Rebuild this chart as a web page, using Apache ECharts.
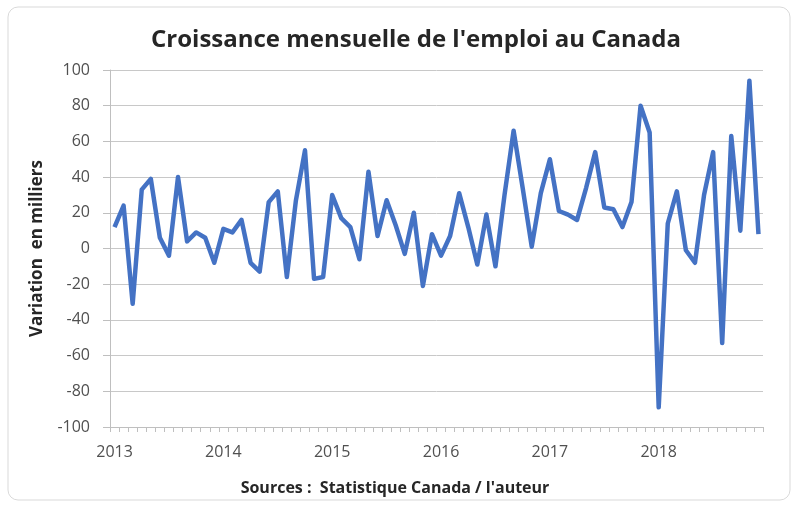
<!DOCTYPE html>
<html>
<head>
<meta charset="utf-8">
<script src="https://cdn.jsdelivr.net/npm/echarts@6/dist/echarts.min.js"></script>
<style>
  html, body { margin: 0; padding: 0; background: #fff; }
  #chart { width: 799px; height: 506px; }
</style>
</head>
<body>
<div id="chart"></div>
<script>
// années et mois de l'axe horizontal
const years = ["2013", "2014", "2015", "2016", "2017", "2018"];
const months = ["01", "02", "03", "04", "05", "06", "07", "08", "09", "10", "11", "12"];

// variation mensuelle de l'emploi (milliers)
const v2013 = [12, 24, -31, 33, 39, 6, -4, 40, 4, 9, 6, -8];
const v2014 = [11, 9, 16, -8, -13, 26, 32, -16, 27, 55, -17, -16];
const v2015 = [30, 17, 12, -6, 43, 7, 27, 13, -3, 20, -21, 8];
const v2016 = [-4, 7, 31, 12, -9, 19, -10, 30, 66, 34, 1, 31];
const v2017 = [50, 21, 19, 16, 34, 54, 23, 22, 12, 26, 80, 65];
const v2018 = [-89, 14, 32, -1, -8, 30, 54, -53, 63, 10, 94, 8];

const yTicks = { min: -100, max: 100, interval: 20 };

const categories = [];
years.forEach(y => months.forEach(m => categories.push(y + "-" + m)));
const values = [].concat(v2013, v2014, v2015, v2016, v2017, v2018);

const font = "'Open Sans', 'Liberation Sans', sans-serif";
const grey = "#505050";

const chart = echarts.init(document.getElementById("chart"));
chart.setOption({
  animation: false,
  grid: { left: 110, right: 36, top: 70, bottom: 79 },
  graphic: [
    {
      type: "rect",
      shape: { x: 8, y: 7, width: 782, height: 493, r: 10 },
      style: { fill: "none", stroke: "#d9d9d9", lineWidth: 1 },
      silent: true
    },
    {
      type: "text",
      x: 416, y: 40,
      style: {
        text: "Croissance mensuelle de l'emploi au Canada",
        align: "center", verticalAlign: "middle",
        font: "bold 24px " + font, fill: "#262626"
      }
    },
    {
      type: "text",
      x: 395, y: 488,
      style: {
        text: "Sources :  Statistique Canada / l'auteur",
        align: "center", verticalAlign: "middle",
        font: "bold 16px " + font, fill: "#262626"
      }
    }
  ],
  xAxis: {
    type: "category",
    data: categories,
    boundaryGap: true,
    axisLine: { onZero: false, lineStyle: { color: "#bfbfbf" } },
    axisTick: { show: true, interval: 0, length: 5, lineStyle: { color: "#bfbfbf" } },
    axisLabel: {
      interval: i => i % 12 === 0,
      formatter: v => v.slice(0, 4),
      margin: 17,
      color: grey,
      fontSize: 16,
      fontFamily: font
    },
    splitLine: { show: false }
  },
  yAxis: {
    type: "value",
    min: yTicks.min,
    max: yTicks.max,
    interval: yTicks.interval,
    name: "Variation  en milliers",
    nameLocation: "middle",
    nameRotate: 90,
    nameGap: 64,
    nameTextStyle: { color: "#262626", fontWeight: "bold", fontSize: 17, fontFamily: font },
    axisLine: { show: true, lineStyle: { color: "#bfbfbf" } },
    axisTick: { show: true, length: 7, lineStyle: { color: "#bfbfbf" } },
    axisLabel: { margin: 20, color: grey, fontSize: 16, fontFamily: font },
    splitLine: { lineStyle: { color: "#c8c8c8" } }
  },
  series: [
    {
      type: "line",
      data: values,
      showSymbol: false,
      lineStyle: { width: 4.5, color: "#4472c4", join: "round" },
      itemStyle: { color: "#4472c4" }
    }
  ]
});
</script>
</body>
</html>
